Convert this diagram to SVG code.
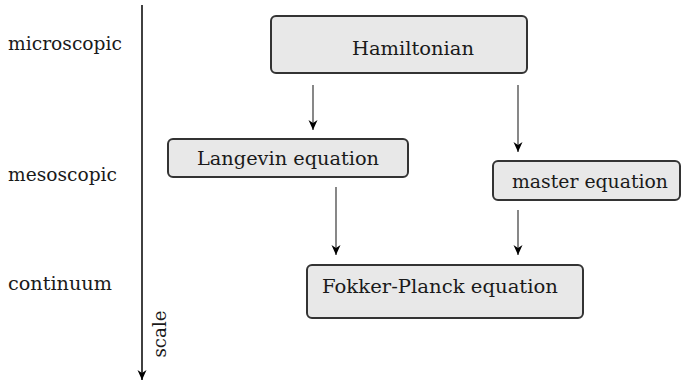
<svg xmlns="http://www.w3.org/2000/svg" width="682" height="381" viewBox="0 0 682 381">
<style>
  .box { fill: #e8e8e8; stroke: #333333; stroke-width: 2; }
  text { font-family: 'DejaVu Serif', serif; font-size: 19px; fill: #1a1a1a; }
  .c { text-anchor: middle; }
  .arr { stroke: #555555; stroke-width: 1.4; fill: none; marker-end: url(#ah); }
  .axis { stroke: #111111; stroke-width: 1.6; fill: none; marker-end: url(#ah); }
</style>
<defs>
  <marker id="ah" viewBox="-11 -5 12 10" refX="0" refY="0" markerWidth="12" markerHeight="10" markerUnits="userSpaceOnUse" orient="auto">
    <path d="M0,0 L-10,-4.5 L-7,0 L-10,4.5 Z" fill="#000000"/>
  </marker>
</defs>
<rect width="682" height="381" fill="#ffffff"/>
<g id="scale-axis">
  <line class="axis" x1="142" y1="5" x2="142" y2="380"/>
  <text transform="translate(166,334) rotate(-90)" text-anchor="middle" textLength="47" lengthAdjust="spacingAndGlyphs">scale</text>
</g>
<g id="level-labels">
  <text x="8" y="50" textLength="114" lengthAdjust="spacingAndGlyphs">microscopic</text>
  <text x="8" y="181" textLength="109" lengthAdjust="spacingAndGlyphs">mesoscopic</text>
  <text x="8" y="290" textLength="104" lengthAdjust="spacingAndGlyphs">continuum</text>
</g>
<g id="connectors">
  <line class="arr" x1="313" y1="85" x2="313" y2="130"/>
  <line class="arr" x1="518" y1="85" x2="518" y2="152"/>
  <line class="arr" x1="336" y1="187" x2="336" y2="255"/>
  <line class="arr" x1="518" y1="210" x2="518" y2="255"/>
</g>
<g id="hamiltonian">
  <rect class="box" x="271" y="16" width="256" height="57" rx="5"/>
  <text class="c" x="413" y="55" textLength="122" lengthAdjust="spacingAndGlyphs">Hamiltonian</text>
</g>
<g id="langevin">
  <rect class="box" x="168" y="139" width="240" height="38" rx="5"/>
  <text class="c" x="288" y="165" textLength="182" lengthAdjust="spacingAndGlyphs">Langevin equation</text>
</g>
<g id="master">
  <rect class="box" x="493" y="161" width="187" height="39" rx="5"/>
  <text class="c" x="590" y="188" textLength="156" lengthAdjust="spacingAndGlyphs">master equation</text>
</g>
<g id="fokker-planck">
  <rect class="box" x="307" y="265" width="276" height="53" rx="5"/>
  <text class="c" x="440" y="293" textLength="236" lengthAdjust="spacingAndGlyphs">Fokker-Planck equation</text>
</g>
</svg>
